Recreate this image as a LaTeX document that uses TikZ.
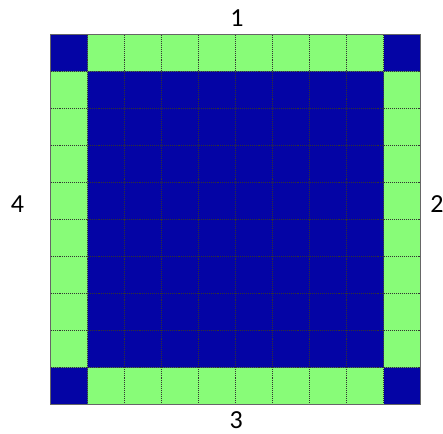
\documentclass[tikz,border=0pt]{standalone}
\usepackage{fontspec}
\setmainfont{Carlito}
\usetikzlibrary{positioning}
\definecolor{cellgreen}{RGB}{136,252,120}
\definecolor{cellblue}{RGB}{4,4,165}
\tikzset{gridline/.style={densely dotted,line width=0.5pt,black!80},
 sidelabel/.style={font=\fontsize{20}{24}\selectfont,inner sep=0pt}}

\begin{document}
\begin{tikzpicture}
\useasboundingbox(-1.37,-0.78)rectangle(10.6,10.93);
\fill[cellblue](0,0)rectangle(10,10);
\fill[cellgreen](1,0)rectangle(9,1)
(1,9)rectangle(9,10)
(0,1)rectangle(1,9)
(9,1)rectangle(10,9);
\foreach \i in {1,...,9}{
\draw[gridline](\i,0)--(\i,10);
\draw[gridline](0,\i)--(10,\i);
}
\draw[black!60,line width=0.6pt](0,0)rectangle(10,10);
\node[sidelabel](top)at(5.03,10.45){1};
\node[sidelabel,anchor=west](right)at(10.25,5.41){2};
\node[sidelabel](bottom)at(5.01,-0.41){3};
\node[sidelabel](left)at(-0.9,5.41){4};
\end{tikzpicture}
\end{document}
